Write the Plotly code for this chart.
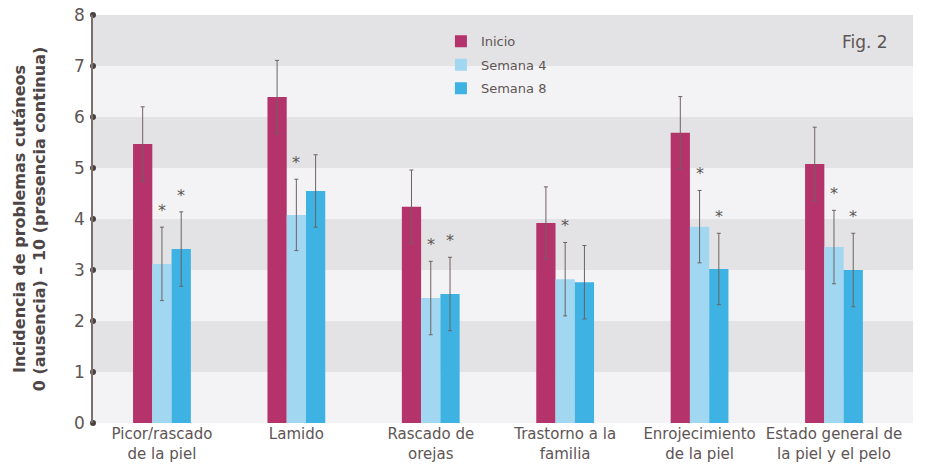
import plotly.graph_objects as go

categories = ["Picor/rascado<br>de la piel", "Lamido", "Rascado de<br>orejas",
              "Trastorno a la<br>familia", "Enrojecimiento<br>de la piel",
              "Estado general de<br>la piel y el pelo"]
series_names = ["Inicio", "Semana 4", "Semana 8"]
inicio = [5.47, 6.39, 4.24, 3.92, 5.69, 5.08]
semana4 = [3.12, 4.08, 2.45, 2.82, 3.85, 3.45]
semana8 = [3.41, 4.55, 2.53, 2.76, 3.02, 3.00]
err_inicio = [0.73, 0.72, 0.72, 0.71, 0.71, 0.72]
err_semana4 = [0.72, 0.70, 0.72, 0.72, 0.71, 0.72]
err_semana8 = [0.73, 0.71, 0.72, 0.72, 0.70, 0.72]
sig_semana4 = [True, True, True, True, True, True]
sig_semana8 = [True, False, True, False, True, True]
y_ticks = [0, 1, 2, 3, 4, 5, 6, 7, 8]

colors = ["#b5336b", "#a2d7f2", "#3db2e3"]
FONT = "DejaVu Sans"
TXT = "#5e5555"
ERRC = "#6e6262"

x_idx = list(range(len(categories)))
XMIN, XMAX = -0.513, 5.588
BARW = 0.143

fig = go.Figure()
for name, vals, errs, col in zip(series_names, [inicio, semana4, semana8],
                                 [err_inicio, err_semana4, err_semana8], colors):
    fig.add_trace(go.Bar(
        x=x_idx, y=vals, name=name, marker=dict(color=col, line=dict(width=0)),
        error_y=dict(type="data", array=errs, visible=True, color=ERRC,
                     thickness=1, width=2),
        legendgroup=name,
    ))

# axis dots
fig.add_trace(go.Scatter(
    x=[XMIN] * len(y_ticks), y=y_ticks, mode="markers",
    marker=dict(color="#4a4242", size=6), cliponaxis=False,
    showlegend=False, hoverinfo="skip"))

# background bands
shapes = []
for k in range(len(y_ticks) - 1):
    shapes.append(dict(type="rect", xref="paper", yref="y", x0=0, x1=1,
                       y0=y_ticks[k], y1=y_ticks[k + 1], layer="below",
                       line=dict(width=0),
                       fillcolor="#e3e3e5" if k % 2 == 1 else "#f3f3f5"))

annotations = []
for i in x_idx:
    for off, vals, errs, sig in [(0.0, semana4, err_semana4, sig_semana4),
                                 (BARW, semana8, err_semana8, sig_semana8)]:
        if sig[i]:
            annotations.append(dict(x=i + off, y=vals[i] + errs[i], text="*",
                                    showarrow=False, yanchor="bottom", yshift=5,
                                    font=dict(family=FONT, size=16, color=TXT)))
annotations.append(dict(xref="paper", yref="paper", x=0.972, y=0.934,
                        xanchor="right", yanchor="middle", text="Fig. 2",
                        showarrow=False, font=dict(family=FONT, size=17, color=TXT)))

fig.update_layout(
    width=940, height=471,
    margin=dict(l=93, r=27, t=15, b=48),
    paper_bgcolor="white", plot_bgcolor="#f3f3f5",
    barmode="group", bargap=0.57, bargroupgap=0,
    font=dict(family=FONT, color=TXT),
    shapes=shapes, annotations=annotations,
    showlegend=True,
    legend=dict(x=0.4243, y=0.972, xanchor="left", yanchor="top",
                bgcolor="rgba(0,0,0,0)", font=dict(family=FONT, size=13, color=TXT),
                traceorder="grouped", tracegroupgap=3.5),
    xaxis=dict(range=[XMIN, XMAX], tickmode="array", tickvals=x_idx,
               ticktext=categories, showgrid=False, zeroline=False, automargin=False,
               tickangle=0,
               showline=False, ticks="", tickfont=dict(family=FONT, size=15, color=TXT)),
    yaxis=dict(range=[0, 8], tickvals=y_ticks, showgrid=False, zeroline=False,
               automargin=False,
               showline=True, linecolor="#7a6e6e", linewidth=1.5,
               ticks="outside", ticklen=3, tickcolor="rgba(0,0,0,0)",
               tickfont=dict(family=FONT, size=17, color=TXT),
               title=dict(text="<b>Incidencia de problemas cutáneos<br>0 (ausencia) – 10 (presencia continua)</b>",
                          font=dict(family=FONT, size=16, color="#4e4646"), standoff=24)),
)

fig.write_html("out.html")
